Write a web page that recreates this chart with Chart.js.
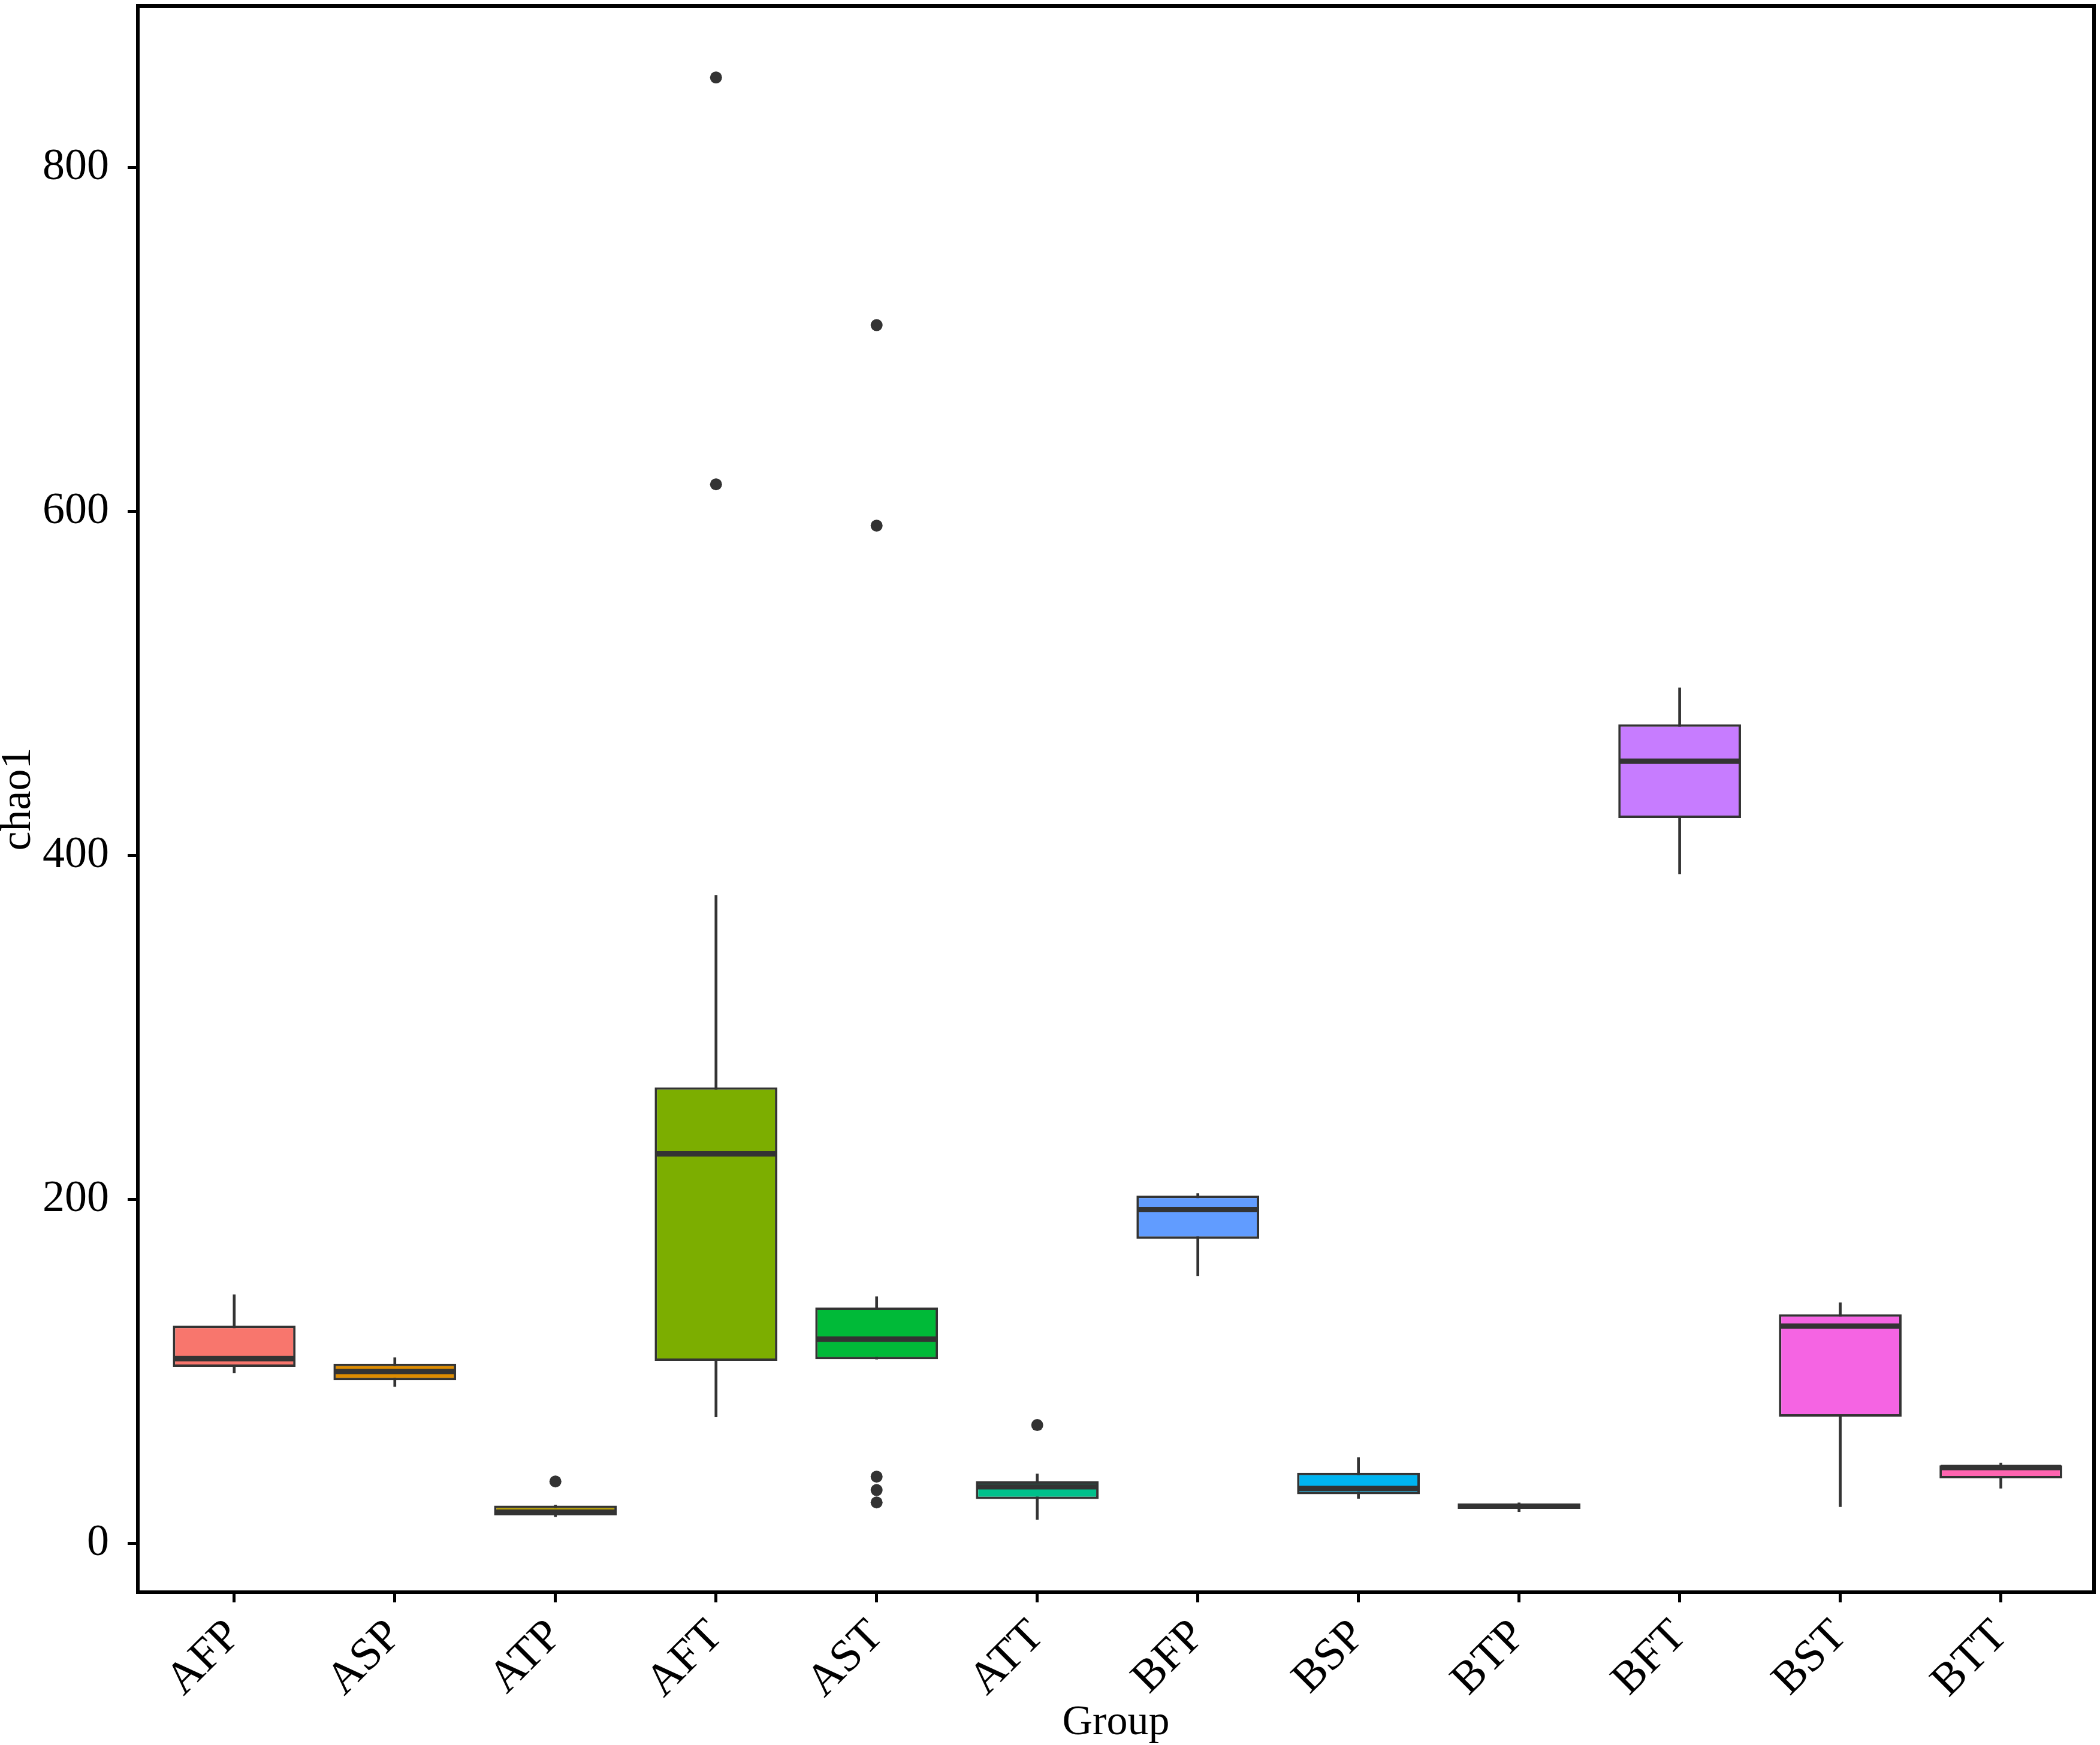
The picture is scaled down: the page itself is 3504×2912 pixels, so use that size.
<!DOCTYPE html>
<html>
<head>
<meta charset="utf-8">
<title>chao1 by group</title>
<script src="https://cdn.jsdelivr.net/npm/chart.js@4.4.0/dist/chart.umd.min.js"></script>
<style>
  html, body { margin: 0; padding: 0; background: #fff; }
  #wrap { width: 3504px; height: 2912px; position: relative; }
</style>
</head>
<body>
<div id="wrap"><canvas id="boxChart"></canvas></div>
<script>
// Data
const groups = ['AFP', 'ASP', 'ATP', 'AFT', 'AST', 'ATT', 'BFP', 'BSP', 'BTP', 'BFT', 'BST', 'BTT'];
const whiskerLow  = [99.1, 91.1, 15.4, 73.4, 107.0, 13.8, 155.5, 26.0, 18.3, 389.1, 21.2, 31.9];
const q1          = [102.5, 94.8, 16.2, 106.0, 107.0, 25.7, 177.0, 28.5, 19.9, 421.8, 73.6, 37.7];
const medians     = [107.3, 99.8, 18.0, 226.4, 118.7, 32.8, 194.0, 31.8, 21.5, 454.8, 126.2, 44.0];
const q3          = [126.5, 104.4, 21.9, 265.1, 137.0, 36.0, 202.1, 40.9, 23.2, 476.2, 133.1, 45.3];
const whiskerHigh = [144.5, 107.9, 22.2, 376.7, 143.4, 40.3, 203.4, 49.8, 23.5, 497.5, 139.9, 46.7];
const outliers = [[], [], [35.9], [852.4, 615.8], [708.4, 591.8, 38.7, 30.9, 23.7], [68.7], [], [], [], [], [], []];
const boxColors = ['#F8766D', '#DE8C00', '#B79F00', '#7CAE00', '#00BA38', '#00C08B',
                   '#619CFF', '#00B4F0', '#00BFC4', '#C77CFF', '#F564E3', '#FF64B0'];
const yTicks = [0, 200, 400, 600, 800];
const yMin = -28.5, yMax = 894;
const xMin = -0.6, xMax = 11.58;

Chart.defaults.font.family = '"Liberation Serif", "DejaVu Serif", serif';
Chart.defaults.color = '#000';

const whiskerData = groups.map((g, i) => ({ x: i, y: [whiskerLow[i], whiskerHigh[i]] }));
const boxData = groups.map((g, i) => ({ x: i, y: [q1[i], q3[i]] }));
const outlierPoints = [];
outliers.forEach((vals, i) => vals.forEach(v => outlierPoints.push({ x: i, y: v })));

// no extra room for half labels, the plot should fill the page
function noPadding(s) {
    s.paddingTop = 0;
    s.paddingBottom = 0;
    s.paddingLeft = 0;
    s.paddingRight = 0;
}

// median lines and the frame round the plot
const boxExtras = {
    id: 'boxExtras',
    afterDatasetsDraw(chart) {
        const c = chart.ctx;
        const yScale = chart.scales.y;
        const meta = chart.getDatasetMeta(1);
        c.save();
        c.strokeStyle = '#333';
        c.lineWidth = 9;
        meta.data.forEach((bar, i) => {
            const py = yScale.getPixelForValue(medians[i]);
            c.beginPath();
            c.moveTo(bar.x - bar.width / 2 + 2, py);
            c.lineTo(bar.x + bar.width / 2 - 2, py);
            c.stroke();
        });
        const a = chart.chartArea;
        c.strokeStyle = '#000';
        c.lineWidth = 6;
        c.strokeRect(a.left, a.top, a.right - a.left, a.bottom - a.top);
        c.restore();
    }
};

const ctx = document.getElementById('boxChart').getContext('2d');
const boxChart = new Chart(ctx, {
    type: 'bar',
    data: {
        datasets: [
            {
                label: 'whiskers',
                data: whiskerData,
                backgroundColor: '#333',
                barThickness: 4,
                grouped: false,
                order: 3
            },
            {
                label: 'boxes',
                data: boxData,
                backgroundColor: boxColors,
                borderColor: '#333',
                borderWidth: 4,
                borderSkipped: false,
                barPercentage: 0.764,
                categoryPercentage: 1,
                grouped: false,
                order: 2
            },
            {
                label: 'outliers',
                type: 'scatter',
                data: outlierPoints,
                pointRadius: 10,
                pointBackgroundColor: '#333',
                pointBorderWidth: 0,
                order: 1
            }
        ]
    },
    options: {
        responsive: true,
        maintainAspectRatio: false,
        devicePixelRatio: 1,
        animation: false,
        layout: { padding: { top: 7, right: 9, left: 0, bottom: 0 } },
        plugins: { legend: { display: false }, tooltip: { enabled: false } },
        scales: {
            x: {
                type: 'linear',
                min: xMin,
                max: xMax,
                offset: false,
                afterBuildTicks: s => { s.ticks = groups.map((g, i) => ({ value: i })); },
                afterFit: s => { s.height = 255; noPadding(s); },
                grid: { offset: false, drawOnChartArea: false, drawTicks: true, tickLength: 17, tickWidth: 5, tickColor: '#000' },
                border: { display: false },
                ticks: {
                    callback: v => groups[v],
                    autoSkip: false,
                    minRotation: 45,
                    maxRotation: 45,
                    padding: 12,
                    color: '#000',
                    font: { size: 76 }
                },
                title: { display: true, text: 'Group', color: '#000', font: { size: 70, lineHeight: 1 }, padding: { top: 0, bottom: 1 } }
            },
            y: {
                min: yMin,
                max: yMax,
                afterBuildTicks: s => { s.ticks = yTicks.map(v => ({ value: v })); },
                afterFit: s => { s.width = 230; noPadding(s); },
                grid: { drawOnChartArea: false, drawTicks: true, tickLength: 17, tickWidth: 5, tickColor: '#000' },
                border: { display: false },
                ticks: { padding: 31, color: '#000', font: { size: 74 } },
                title: { display: true, text: 'chao1', color: '#000', font: { size: 72, lineHeight: 1 }, padding: { top: -5, bottom: 0 } }
            }
        }
    },
    plugins: [boxExtras]
});
</script>
</body>
</html>
